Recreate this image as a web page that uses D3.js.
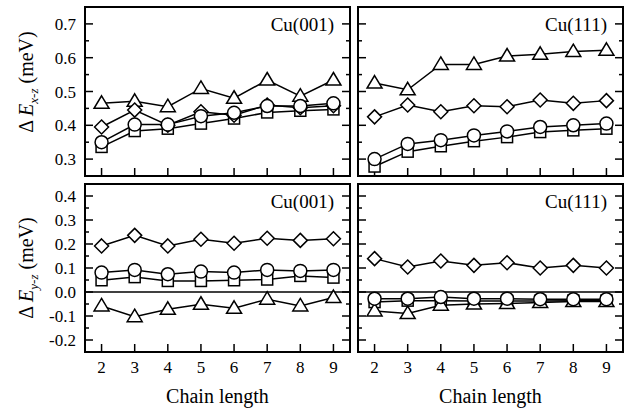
<!DOCTYPE html>
<html>
<head>
<meta charset="utf-8">
<script src="https://cdn.jsdelivr.net/npm/d3@7"></script>
<style>
  body { margin: 0; background: #fff; }
</style>
</head>
<body>
<div class="main"></div>
<script>
// chain lengths on the x axis
const chainLength = [2, 3, 4, 5, 6, 7, 8, 9];

// Delta E x-z, Cu(001)
const xz001Square   = [0.336, 0.383, 0.390, 0.405, 0.420, 0.438, 0.443, 0.447];
const xz001Circle   = [0.350, 0.402, 0.402, 0.427, 0.437, 0.457, 0.457, 0.465];
const xz001Diamond  = [0.395, 0.445, 0.400, 0.440, 0.430, 0.460, 0.452, 0.458];
const xz001Triangle = [0.465, 0.471, 0.455, 0.509, 0.480, 0.534, 0.486, 0.534];

// Delta E x-z, Cu(111)
const xz111Square   = [0.278, 0.322, 0.338, 0.353, 0.365, 0.380, 0.385, 0.390];
const xz111Circle   = [0.300, 0.345, 0.356, 0.370, 0.382, 0.395, 0.400, 0.405];
const xz111Diamond  = [0.425, 0.460, 0.440, 0.458, 0.455, 0.475, 0.465, 0.473];
const xz111Triangle = [0.525, 0.505, 0.580, 0.580, 0.605, 0.610, 0.618, 0.622];

// Delta E y-z, Cu(001)
const yz001Square   = [0.049, 0.062, 0.046, 0.046, 0.049, 0.052, 0.067, 0.060];
const yz001Circle   = [0.081, 0.092, 0.074, 0.085, 0.081, 0.092, 0.088, 0.092];
const yz001Diamond  = [0.192, 0.236, 0.192, 0.220, 0.203, 0.224, 0.215, 0.222];
const yz001Triangle = [-0.058, -0.103, -0.072, -0.051, -0.068, -0.030, -0.058, -0.023];

// Delta E y-z, Cu(111)
const yz111Square   = [-0.042, -0.036, -0.036, -0.037, -0.037, -0.037, -0.036, -0.036];
const yz111Circle   = [-0.028, -0.028, -0.021, -0.028, -0.028, -0.030, -0.030, -0.030];
const yz111Diamond  = [0.139, 0.104, 0.129, 0.111, 0.122, 0.100, 0.111, 0.100];
const yz111Triangle = [-0.079, -0.090, -0.055, -0.050, -0.048, -0.044, -0.040, -0.040];

const yTicksTop = [0.3, 0.4, 0.5, 0.6, 0.7];
const yTicksBottom = [-0.2, -0.1, 0.0, 0.1, 0.2, 0.3, 0.4];

const serif = "'Liberation Serif', 'Times New Roman', Times, 'DejaVu Serif', serif";

const svg = d3.select("div.main").append("svg")
  .attr("width", 629)
  .attr("height", 413)
  .attr("font-family", serif);

// panel boxes in pixels
const cols = [[85, 350], [358, 623]];
const rows = [[7, 176], [184, 352]];

const panels = [
  { col: 0, row: 0, label: "Cu(001)", series: [xz001Square, xz001Triangle, xz001Diamond, xz001Circle] },
  { col: 1, row: 0, label: "Cu(111)", series: [xz111Square, xz111Triangle, xz111Diamond, xz111Circle] },
  { col: 0, row: 1, label: "Cu(001)", series: [yz001Square, yz001Triangle, yz001Diamond, yz001Circle] },
  { col: 1, row: 1, label: "Cu(111)", series: [yz111Square, yz111Triangle, yz111Diamond, yz111Circle] }
];
const shapes = ["square", "triangle", "diamond", "circle"];

function marker(g, shape, cx, cy) {
  let m;
  if (shape === "circle") {
    m = g.append("circle").attr("cx", cx).attr("cy", cy).attr("r", 6.5);
  } else if (shape === "square") {
    m = g.append("rect").attr("x", cx - 5.5).attr("y", cy - 5.5).attr("width", 11).attr("height", 11);
  } else if (shape === "diamond") {
    m = g.append("path").attr("d", "M" + cx + "," + (cy - 7) + " L" + (cx + 7) + "," + cy +
      " L" + cx + "," + (cy + 7) + " L" + (cx - 7) + "," + cy + " Z");
  } else {
    m = g.append("path").attr("d", "M" + cx + "," + (cy - 7.5) + " L" + (cx + 7.5) + "," + (cy + 5) +
      " L" + (cx - 7.5) + "," + (cy + 5) + " Z");
  }
  m.attr("fill", "#fff").attr("stroke", "#000").attr("stroke-width", 1.5);
}

panels.forEach(function(p) {
  const x = d3.scaleLinear().domain([1.5, 9.5]).range(cols[p.col]);
  const y = p.row === 0
    ? d3.scaleLinear().domain([0.25, 0.75]).range([rows[0][1], rows[0][0]])
    : d3.scaleLinear().domain([-0.25, 0.45]).range([rows[1][1], rows[1][0]]);
  const majors = p.row === 0 ? yTicksTop : yTicksBottom;
  const minors = d3.range(0, majors.length - 1).map(i => (majors[i] + majors[i + 1]) / 2)
    .concat([majors[0] - 0.05, majors[majors.length - 1] + 0.05])
    .filter(v => v > y.domain()[0] + 0.001 && v < y.domain()[1] - 0.001);

  const g = svg.append("g");
  const x0 = cols[p.col][0], x1 = cols[p.col][1];

  // ticks on left and right
  majors.forEach(function(v) {
    g.append("line").attr("x1", x0).attr("x2", x0 + 8).attr("y1", y(v)).attr("y2", y(v));
    g.append("line").attr("x1", x1).attr("x2", x1 - 8).attr("y1", y(v)).attr("y2", y(v));
  });
  minors.forEach(function(v) {
    g.append("line").attr("x1", x0).attr("x2", x0 + 4).attr("y1", y(v)).attr("y2", y(v));
    g.append("line").attr("x1", x1).attr("x2", x1 - 4).attr("y1", y(v)).attr("y2", y(v));
  });
  chainLength.forEach(function(c) {
    g.append("line").attr("x1", x(c)).attr("x2", x(c))
      .attr("y1", y.range()[0]).attr("y2", y.range()[0] - 8);
  });
  g.selectAll("line").attr("stroke", "#000").attr("stroke-width", 1.5);

  // zero line
  if (p.row === 1) {
    g.append("line").attr("x1", x0).attr("x2", x1).attr("y1", y(0)).attr("y2", y(0))
      .attr("stroke", "#000").attr("stroke-width", 1.5);
  }

  // tick labels
  if (p.col === 0) {
    majors.forEach(function(v) {
      g.append("text").attr("x", 76).attr("y", y(v) + 6)
        .attr("text-anchor", "end").attr("font-size", 17)
        .text(v.toFixed(1));
    });
  }
  if (p.row === 1) {
    chainLength.forEach(function(c) {
      g.append("text").attr("x", x(c)).attr("y", 373)
        .attr("text-anchor", "middle").attr("font-size", 17)
        .text(c);
    });
  }

  // data
  const line = d3.line().x((d, i) => x(chainLength[i])).y(d => y(d));
  p.series.forEach(function(s, k) {
    g.append("path").attr("d", line(s))
      .attr("fill", "none").attr("stroke", "#000").attr("stroke-width", 1.5);
    s.forEach(function(v, i) { marker(g, shapes[k], x(chainLength[i]), y(v)); });
  });

  // frame
  g.append("rect").attr("x", x0).attr("y", rows[p.row][0])
    .attr("width", x1 - x0).attr("height", rows[p.row][1] - rows[p.row][0])
    .attr("fill", "none").attr("stroke", "#000").attr("stroke-width", 2);

  g.append("text").attr("x", x1 - 16).attr("y", rows[p.row][0] + 24)
    .attr("text-anchor", "end").attr("font-size", 19).text(p.label);
});

// x axis titles
cols.forEach(function(c) {
  svg.append("text").attr("x", (c[0] + c[1]) / 2).attr("y", 403)
    .attr("text-anchor", "middle").attr("font-size", 20).text("Chain length");
});

// y axis titles
function yTitle(cy, sub) {
  const t = svg.append("text")
    .attr("transform", "translate(33," + cy + ") rotate(-90)")
    .attr("text-anchor", "middle").attr("font-size", 20);
  t.append("tspan").text("Δ ");
  t.append("tspan").attr("font-style", "italic").text("E");
  t.append("tspan").attr("dy", 5).attr("font-size", 13).attr("font-style", "italic").text(sub);
  t.append("tspan").attr("dy", -5).text(" (meV)");
}
yTitle(82, "x-z");
yTitle(268, "y-z");
</script>
</body>
</html>
